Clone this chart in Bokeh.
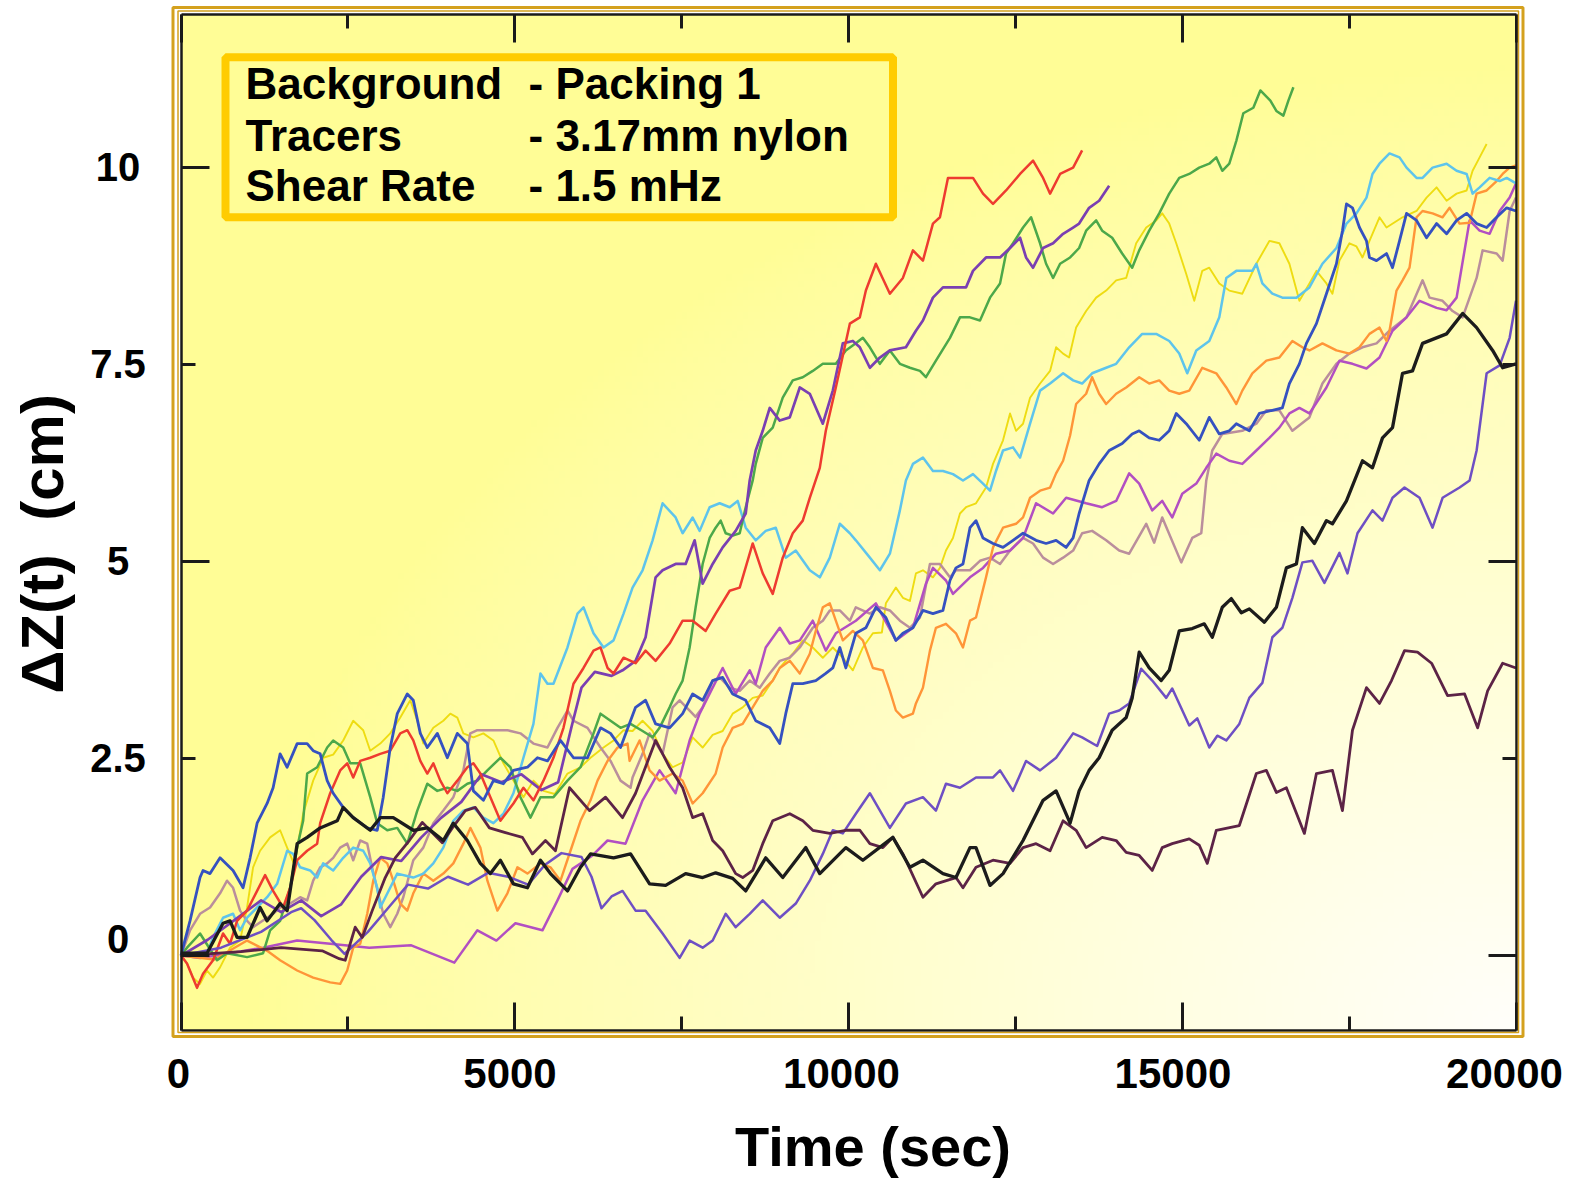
import math
import numpy as np
from bokeh.plotting import figure
from bokeh.models import Range1d, FixedTicker, LinearAxis, BoxAnnotation, Label
from bokeh.embed import file_html
from bokeh.resources import INLINE

# ---------------- data ----------------
X_TICKS = [0, 5000, 10000, 15000, 20000]
X_MINOR = [2500, 7500, 12500, 17500]
X_TICK_TEXT = ["0", "5000", "10000", "15000", "20000"]
Y_TICKS = [0, 5, 10]
Y_MINOR = [2.5, 7.5]
Y_LABEL_VALUES = [0, 2.5, 5, 7.5, 10]
Y_LABEL_TEXT = ["0", "2.5", "5", "7.5", "10"]
X_TITLE = "Time (sec)"
Y_TITLE = "ΔZ(t)\u00a0 (cm)"

LEGEND_KEYS = ["Background", "Tracers", "Shear Rate"]
LEGEND_VALUES = ["- Packing 1", "- 3.17mm nylon", "- 1.5 mHz"]

black = [(0,0.03),(390,0.03),(630,0.41),(735,0.44),(840,0.23),(990,0.23),(1185,0.61),(1290,0.44),(1485,0.66),(1590,0.57),(1740,1.42),(1890,1.50),(2085,1.62),(2340,1.71),(2430,1.88),(2580,1.75),(2835,1.59),(2985,1.75),(3180,1.75),(3480,1.59),(3690,1.62),(3930,1.46),(4080,1.68),(4290,1.46),(4485,1.17),(4635,1.04),(4785,1.21),(4980,0.91),(5190,0.86),(5385,1.21),(5535,1.04),(5790,0.82),(5985,1.12),(6135,1.29),(6480,1.24),(6735,1.29),(7020,0.91),(7260,0.89),(7560,1.04),(7815,0.99),(8010,1.05),(8265,0.98),(8460,0.82),(8760,1.24),(9015,0.99),(9360,1.37),(9570,1.04),(9960,1.37),(10215,1.21),(10665,1.50),(10920,1.12),(11115,1.21),(11415,1.04),(11610,0.99),(11820,1.37),(11910,1.37),(12120,0.89),(12315,1.04),(12615,1.46),(12915,1.97),(13110,2.09),(13320,1.68),(13455,2.09),(13605,2.35),(13755,2.51),(13950,2.86),(14160,3.02),(14250,3.27),(14355,3.85),(14505,3.65),(14685,3.49),(14805,3.62),(14955,4.12),(15150,4.15),(15330,4.21),(15450,4.04),(15600,4.42),(15735,4.53),(15885,4.35),(16005,4.40),(16230,4.23),(16410,4.42),(16560,4.92),(16710,4.97),(16800,5.43),(16980,5.23),(17160,5.52),(17250,5.48),(17460,5.77),(17700,6.28),(17850,6.19),(18000,6.57),(18150,6.70),(18300,7.39),(18450,7.42),(18600,7.77),(18960,7.89),(19200,8.15),(19410,7.97),(19650,7.68),(19800,7.46),(20000,7.51)]

maroon = [(0,0.0),(900,0.05),(1500,0.1),(2115,0.06),(2370,-0.04),(2460,-0.06),(2610,0.36),(2715,0.23),(2865,0.57),(3060,0.99),(3210,1.24),(3420,1.46),(3615,1.69),(3810,1.52),(3915,1.43),(4065,1.62),(4260,1.84),(4410,1.88),(4620,1.62),(4860,1.56),(5115,1.50),(5265,1.29),(5460,1.46),(5610,1.33),(5820,2.13),(6120,1.84),(6360,2.01),(6615,1.75),(6810,2.06),(7110,2.73),(7320,2.39),(7515,2.13),(7665,1.75),(7815,1.80),(7965,1.46),(8115,1.33),(8310,1.04),(8415,0.99),(8565,1.08),(8715,1.42),(8865,1.71),(9120,1.80),(9315,1.71),(9465,1.59),(9720,1.55),(9960,1.59),(10170,1.59),(10320,1.42),(10515,1.37),(10665,1.50),(10815,1.29),(11115,0.74),(11310,0.91),(11610,0.99),(11715,0.86),(11910,1.12),(12165,1.21),(12420,1.17),(12615,1.37),(12810,1.42),(13020,1.33),(13215,1.71),(13410,1.59),(13560,1.37),(13800,1.50),(14010,1.46),(14160,1.31),(14355,1.27),(14550,1.08),(14700,1.37),(14850,1.42),(15105,1.48),(15255,1.40),(15375,1.17),(15510,1.59),(15855,1.65),(16110,2.31),(16260,2.35),(16410,2.07),(16560,2.13),(16830,1.55),(17010,2.31),(17250,2.35),(17400,1.84),(17550,2.86),(17760,3.40),(17955,3.20),(18135,3.49),(18330,3.87),(18525,3.85),(18735,3.71),(18975,3.30),(19230,3.32),(19425,2.89),(19575,3.36),(19800,3.71),(20000,3.65)]

violet = [(0,0.0),(600,0.1),(1200,0.3),(1650,0.55),(1800,0.6),(2000,0.45),(2250,0.2),(2450,0.02),(2800,0.3),(3100,0.6),(3400,0.9),(3700,0.85),(4000,1.0),(4300,0.9),(4600,1.05),(4900,1.0),(5200,0.9),(5450,1.15),(5700,1.3),(6000,1.25),(6150,1.0),(6300,0.6),(6450,0.75),(6615,0.82),(6810,0.57),(6960,0.57),(7215,0.28),(7470,-0.03),(7620,0.19),(7815,0.10),(7965,0.19),(8160,0.53),(8310,0.36),(8520,0.53),(8715,0.70),(8970,0.48),(9210,0.66),(9420,0.95),(9615,1.29),(9765,1.59),(9915,1.55),(10110,1.80),(10320,2.06),(10620,1.62),(10860,1.93),(11115,2.01),(11310,1.84),(11460,2.18),(11670,2.13),(11910,2.26),(12165,2.26),(12270,2.35),(12465,2.09),(12660,2.47),(12870,2.35),(13110,2.51),(13365,2.82),(13500,2.77),(13725,2.66),(13905,3.07),(14055,3.11),(14205,3.20),(14385,3.64),(14550,3.49),(14760,3.27),(14850,3.39),(15105,2.92),(15225,3.01),(15405,2.64),(15525,2.79),(15660,2.73),(15855,2.94),(16005,3.27),(16200,3.46),(16350,4.04),(16500,4.16),(16650,4.54),(16800,4.99),(16950,5.01),(17130,4.73),(17355,5.11),(17475,4.85),(17625,5.36),(17850,5.65),(18000,5.52),(18150,5.81),(18330,5.94),(18555,5.81),(18750,5.43),(18900,5.81),(19155,5.94),(19305,6.03),(19410,6.41),(19560,7.39),(19755,7.49),(19905,7.84),(20000,8.31)]

red = [(0,0.0),(90,-0.10),(240,-0.41),(330,-0.23),(480,-0.06),(630,0.28),(735,0.15),(840,0.44),(990,0.57),(1140,0.82),(1260,1.02),(1380,0.82),(1530,0.61),(1635,0.86),(1740,1.21),(1890,1.33),(2040,1.42),(2085,1.68),(2235,2.06),(2385,2.35),(2490,2.44),(2580,2.26),(2685,2.47),(2835,2.51),(2985,2.56),(3135,2.60),(3285,2.82),(3390,2.86),(3480,2.73),(3585,2.47),(3690,2.31),(3780,2.44),(3885,2.22),(3990,2.06),(4140,2.22),(4290,2.39),(4380,2.44),(4485,2.31),(4635,2.01),(4785,1.71),(4980,1.93),(5130,2.13),(5280,1.97),(5430,2.22),(5580,2.51),(5730,2.89),(5880,3.45),(6030,3.65),(6180,3.87),(6285,3.91),(6390,3.65),(6480,3.58),(6630,3.78),(6810,3.71),(6960,3.87),(7110,3.74),(7320,3.96),(7515,4.25),(7665,4.25),(7860,4.12),(8010,4.34),(8220,4.63),(8370,4.67),(8565,5.23),(8715,4.85),(8865,4.59),(9015,5.05),(9165,5.36),(9315,5.52),(9420,5.81),(9570,6.19),(9660,6.66),(9810,7.21),(10020,8.02),(10170,8.10),(10260,8.44),(10410,8.78),(10620,8.40),(10815,8.60),(10965,8.95),(11115,8.82),(11265,9.29),(11370,9.37),(11490,9.87),(11670,9.87),(11865,9.87),(12015,9.67),(12165,9.54),(12360,9.71),(12570,9.92),(12765,10.09),(12915,9.87),(13020,9.67),(13170,9.92),(13365,10.0),(13500,10.22)]

purple = [(0,0.0),(400,0.2),(800,0.45),(1200,0.7),(1500,0.55),(1800,0.7),(2100,0.5),(2400,0.65),(2700,1.0),(3000,1.25),(3300,1.2),(3600,1.5),(3900,1.75),(4200,1.95),(4500,2.3),(4800,2.2),(5100,2.3),(5400,2.1),(5650,2.2),(5850,2.9),(6000,3.4),(6200,3.6),(6450,3.55),(6615,3.62),(6810,3.74),(6960,4.04),(7110,4.80),(7215,4.89),(7410,4.97),(7560,4.97),(7695,5.27),(7815,4.72),(7965,4.97),(8115,5.18),(8310,5.39),(8460,5.61),(8520,6.03),(8610,6.41),(8715,6.66),(8820,6.95),(8970,6.79),(9120,6.83),(9270,7.21),(9420,7.13),(9615,6.75),(9765,7.17),(9915,7.77),(10065,7.80),(10170,7.72),(10320,7.46),(10470,7.59),(10620,7.68),(10860,7.72),(11010,7.93),(11115,8.06),(11265,8.35),(11415,8.48),(11610,8.48),(11760,8.48),(11865,8.69),(12060,8.86),(12270,8.86),(12420,8.98),(12570,9.11),(12660,8.86),(12765,8.73),(12915,8.98),(13065,9.04),(13215,9.16),(13365,9.24),(13455,9.29),(13605,9.49),(13755,9.58),(13905,9.77)]

green = [(0,0.0),(90,0.10),(285,0.28),(540,-0.06),(690,0.03),(990,-0.02),(1230,0.03),(1335,0.32),(1485,0.44),(1635,0.86),(1740,1.37),(1830,1.71),(1890,2.31),(2040,2.39),(2190,2.64),(2280,2.73),(2430,2.64),(2535,2.44),(2685,2.44),(2835,2.01),(2940,1.68),(3090,1.59),(3240,1.62),(3390,1.42),(3540,1.84),(3690,2.18),(3840,2.09),(3990,2.13),(4140,2.09),(4290,2.18),(4440,2.22),(4590,2.35),(4785,2.51),(4935,2.39),(5085,2.01),(5235,1.75),(5385,2.01),(5580,2.01),(5790,2.22),(5985,2.39),(6180,2.82),(6285,3.07),(6435,2.98),(6585,2.89),(6735,2.94),(6915,2.85),(7065,2.77),(7170,2.89),(7320,3.15),(7410,3.32),(7515,3.49),(7620,3.91),(7710,4.42),(7815,4.97),(7920,5.30),(8010,5.43),(8085,5.52),(8160,5.36),(8265,5.33),(8370,5.36),(8460,5.69),(8565,6.03),(8610,6.24),(8715,6.57),(8865,6.70),(9015,7.08),(9165,7.30),(9315,7.34),(9465,7.42),(9615,7.51),(9810,7.51),(9960,7.68),(10110,7.77),(10215,7.84),(10320,7.72),(10470,7.51),(10620,7.68),(10770,7.51),(10920,7.46),(11070,7.42),(11160,7.34),(11310,7.55),(11520,7.84),(11670,8.10),(11820,8.10),(11970,8.06),(12120,8.35),(12270,8.53),(12360,8.91),(12465,9.04),(12615,9.24),(12735,9.37),(12870,9.04),(12960,8.78),(13065,8.60),(13170,8.78),(13320,8.86),(13455,8.98),(13560,9.20),(13710,9.33),(13800,9.20),(13950,9.11),(14100,8.91),(14250,8.73),(14355,8.95),(14505,9.20),(14655,9.42),(14805,9.67),(14955,9.87),(15105,9.92),(15255,10.0),(15405,10.05),(15510,10.13),(15600,9.96),(15705,10.05),(15810,10.34),(15915,10.69),(16065,10.76),(16170,10.98),(16320,10.85),(16410,10.72),(16515,10.66),(16590,10.85),(16665,11.02)]

cyan = [(0,0.0),(390,0.03),(480,0.23),(630,0.48),(780,0.53),(885,0.32),(990,0.48),(1140,0.61),(1290,0.74),(1440,0.91),(1590,1.33),(1680,1.29),(1785,1.12),(1935,1.08),(2040,0.99),(2130,1.17),(2280,1.08),(2430,1.24),(2580,1.37),(2730,1.33),(2835,1.17),(2940,0.86),(2985,0.61),(3240,1.04),(3480,0.99),(3630,1.04),(3780,1.17),(3930,1.37),(4080,1.71),(4230,1.84),(4380,1.88),(4530,1.75),(4680,1.68),(4830,1.80),(4980,2.06),(5130,2.51),(5280,2.94),(5385,3.58),(5490,3.45),(5580,3.45),(5790,3.91),(5940,4.34),(6030,4.42),(6180,4.09),(6330,3.91),(6480,4.00),(6630,4.34),(6765,4.67),(6915,4.89),(7065,5.27),(7215,5.74),(7410,5.56),(7515,5.36),(7665,5.56),(7770,5.39),(7920,5.69),(8070,5.74),(8220,5.69),(8340,5.77),(8460,5.43),(8610,5.27),(8760,5.39),(8910,5.43),(9060,5.05),(9210,5.14),(9420,4.89),(9570,4.80),(9720,5.05),(9870,5.48),(10020,5.36),(10110,5.27),(10320,5.05),(10470,4.89),(10620,5.10),(10770,5.65),(10860,6.03),(10965,6.24),(11115,6.32),(11265,6.15),(11415,6.15),(11565,6.11),(11715,6.03),(11865,6.11),(12015,5.99),(12120,5.90),(12210,6.15),(12315,6.41),(12465,6.45),(12570,6.32),(12720,6.75),(12870,7.17),(13020,7.26),(13215,7.39),(13365,7.30),(13500,7.26),(13650,7.39),(13860,7.46),(14010,7.51),(14205,7.72),(14400,7.89),(14610,7.89),(14805,7.80),(14955,7.64),(15075,7.39),(15210,7.68),(15405,7.80),(15555,8.10),(15660,8.60),(15810,8.69),(16050,8.69),(16110,8.78),(16200,8.53),(16350,8.40),(16500,8.35),(16710,8.35),(16905,8.48),(17100,8.78),(17310,8.98),(17460,9.29),(17610,9.42),(17760,9.62),(17850,9.92),(17955,10.05),(18105,10.18),(18255,10.13),(18360,10.0),(18510,9.87),(18600,9.87),(18750,10.0),(18960,10.05),(19110,9.96),(19260,9.92),(19350,9.67),(19455,9.75),(19605,9.87),(19755,9.83),(19860,9.87),(20000,9.80)]

blue = [(0,0.0),(30,0.1),(135,0.44),(285,0.99),(330,1.08),(435,1.04),(585,1.24),(780,1.08),(930,0.86),(1035,1.24),(1140,1.68),(1290,1.93),(1380,2.13),(1485,2.56),(1590,2.39),(1740,2.69),(1890,2.69),(1980,2.60),(2085,2.56),(2190,2.22),(2280,2.06),(2430,1.88),(2580,1.75),(2790,1.62),(2940,1.59),(3030,2.01),(3135,2.64),(3240,3.07),(3390,3.32),(3480,3.24),(3585,2.82),(3690,2.64),(3840,2.82),(3990,2.51),(4140,2.82),(4290,2.69),(4380,2.09),(4530,1.97),(4680,2.22),(4830,2.18),(4980,2.35),(5190,2.39),(5340,2.51),(5490,2.47),(5685,2.73),(5880,2.51),(6090,2.51),(6285,2.89),(6435,2.82),(6585,2.64),(6810,3.15),(6960,3.24),(7110,2.94),(7320,2.89),(7515,3.07),(7665,3.32),(7815,3.24),(7965,3.49),(8115,3.53),(8265,3.32),(8460,3.24),(8610,2.98),(8820,2.89),(8970,2.69),(9060,3.07),(9165,3.45),(9315,3.45),(9510,3.49),(9660,3.58),(9765,3.65),(9870,3.91),(9960,3.65),(10110,4.09),(10260,4.16),(10410,4.42),(10560,4.29),(10710,4.00),(10815,4.09),(10965,4.16),(11115,4.38),(11265,4.34),(11415,4.38),(11520,4.76),(11610,4.92),(11715,4.97),(11820,5.43),(11910,5.52),(12015,5.30),(12165,5.23),(12315,5.18),(12465,5.27),(12615,5.36),(12810,5.27),(12960,5.23),(13110,5.27),(13260,5.18),(13365,5.30),(13455,5.61),(13605,6.03),(13755,6.24),(13905,6.41),(14100,6.50),(14250,6.62),(14355,6.66),(14505,6.57),(14655,6.54),(14805,6.66),(14910,6.88),(15060,6.75),(15255,6.54),(15405,6.83),(15555,6.62),(15705,6.66),(15810,6.75),(16005,6.66),(16155,6.88),(16350,6.92),(16500,6.95),(16605,7.26),(16755,7.51),(16860,7.77),(17010,8.02),(17160,8.40),(17310,8.78),(17400,9.20),(17460,9.54),(17550,9.49),(17655,9.24),(17760,9.07),(17805,8.86),(17910,8.82),(18060,8.91),(18150,8.73),(18255,9.07),(18360,9.42),(18510,9.33),(18660,9.11),(18810,9.29),(18960,9.16),(19110,9.33),(19260,9.42),(19410,9.29),(19560,9.24),(19710,9.37),(19860,9.49),(20000,9.45)]

orange = [(0,0.0),(500,-0.05),(990,0.19),(1290,0.06),(1485,-0.06),(1740,-0.19),(1980,-0.28),(2235,-0.34),(2385,-0.36),(2490,-0.19),(2580,0.10),(2685,0.15),(2790,0.53),(2880,0.95),(2985,1.24),(3090,1.17),(3180,0.95),(3285,0.66),(3390,0.57),(3480,0.79),(3630,1.04),(3780,0.95),(3930,1.04),(4080,1.17),(4230,1.42),(4335,1.62),(4485,1.37),(4590,0.95),(4740,0.57),(4890,0.79),(5040,1.12),(5190,1.04),(5385,1.17),(5535,1.12),(5685,0.95),(5835,1.33),(5985,1.71),(6135,1.97),(6240,2.22),(6390,2.47),(6540,2.64),(6690,2.69),(6720,2.47),(6870,2.73),(7020,2.35),(7170,2.22),(7365,2.31),(7515,2.22),(7665,1.93),(7815,2.06),(8010,2.31),(8115,2.64),(8265,2.89),(8415,2.94),(8565,3.15),(8715,3.36),(8865,3.49),(8970,3.65),(9120,3.74),(9270,3.58),(9420,3.83),(9510,4.12),(9615,4.42),(9720,4.47),(9810,4.25),(9915,4.00),(10065,4.12),(10215,4.00),(10365,3.65),(10515,3.62),(10620,3.36),(10710,3.11),(10815,3.02),(10965,3.07),(11010,3.20),(11115,3.40),(11220,3.87),(11310,4.16),(11460,4.21),(11610,4.09),(11715,3.91),(11820,4.25),(11910,4.29),(12060,4.80),(12165,5.18),(12315,5.43),(12510,5.48),(12615,5.56),(12720,5.81),(12870,5.90),(13020,5.94),(13110,6.12),(13215,6.28),(13320,6.60),(13410,7.00),(13560,7.13),(13650,7.34),(13755,7.13),(13860,7.00),(14010,7.13),(14160,7.21),(14355,7.34),(14505,7.26),(14655,7.30),(14805,7.17),(14955,7.13),(15105,7.17),(15300,7.46),(15510,7.39),(15660,7.21),(15810,7.00),(15900,7.17),(16050,7.39),(16260,7.55),(16455,7.59),(16650,7.80),(16800,7.72),(16905,7.68),(17100,7.77),(17310,7.68),(17505,7.64),(17655,7.72),(17805,7.89),(17955,7.97),(18060,7.80),(18105,7.93),(18210,8.44),(18300,8.57),(18405,8.73),(18510,9.37),(18600,9.45),(18750,9.42),(18900,9.37),(19005,9.49),(19155,9.29),(19305,9.30),(19410,9.67),(19560,9.71),(19710,9.83),(19800,9.92),(19905,10.0),(20000,10.03)]

yellow = [(0,0.0),(90,-0.10),(180,-0.28),(285,-0.36),(390,-0.19),(480,-0.28),(585,-0.15),(735,0.10),(885,0.19),(990,0.61),(1080,1.12),(1185,1.33),(1335,1.50),(1485,1.59),(1590,1.37),(1700,1.15),(1830,1.80),(1980,2.22),(2130,2.51),(2280,2.55),(2430,2.73),(2580,2.98),(2730,2.86),(2835,2.60),(2985,2.69),(3135,2.82),(3285,3.02),(3435,3.24),(3540,2.98),(3630,2.69),(3780,2.89),(3930,2.98),(4035,3.07),(4140,3.02),(4230,2.82),(4380,2.77),(4530,2.82),(4680,2.73),(4830,2.44),(4980,2.22),(5130,2.01),(5280,2.22),(5430,2.09),(5600,2.05),(5790,2.31),(5985,2.39),(6135,2.51),(6330,2.64),(6480,2.73),(6630,2.86),(6765,2.85),(6915,2.98),(7065,2.85),(7215,2.56),(7365,2.39),(7515,2.45),(7665,2.77),(7815,2.64),(7965,2.80),(8115,2.85),(8265,3.07),(8415,3.15),(8565,3.27),(8715,3.30),(8865,3.49),(8970,3.65),(9060,3.74),(9165,3.83),(9315,4.00),(9465,3.91),(9615,3.78),(9765,3.91),(9915,3.78),(10065,3.62),(10215,3.91),(10365,4.09),(10500,4.10),(10560,4.47),(10710,4.67),(10815,4.54),(10920,4.50),(11010,4.85),(11115,4.89),(11265,4.80),(11370,4.92),(11460,5.14),(11565,5.30),(11670,5.61),(11760,5.69),(11910,5.74),(12060,5.94),(12165,6.24),(12315,6.54),(12420,6.88),(12510,6.66),(12615,6.75),(12720,7.08),(12870,7.26),(13020,7.42),(13110,7.72),(13215,7.64),(13305,7.59),(13410,7.97),(13560,8.18),(13710,8.35),(13860,8.44),(14010,8.57),(14160,8.60),(14310,9.04),(14460,9.24),(14610,9.33),(14700,9.42),(14805,9.29),(14910,9.04),(15060,8.65),(15180,8.31),(15300,8.69),(15405,8.73),(15555,8.53),(15705,8.44),(15900,8.40),(16110,8.78),(16305,9.07),(16455,9.04),(16605,8.78),(16755,8.31),(16905,8.53),(17010,8.69),(17160,8.53),(17250,8.40),(17355,8.82),(17505,9.04),(17610,9.00),(17700,8.86),(17805,9.07),(17955,9.37),(18060,9.24),(18300,9.37),(18510,9.45),(18660,9.62),(18810,9.75),(18960,9.58),(19110,9.67),(19260,9.71),(19350,9.96),(19455,10.13),(19560,10.30)]

magenta = [(0,0.0),(285,-0.03),(735,0.03),(1230,0.10),(1740,0.19),(2235,0.15),(2820,0.10),(3450,0.13),(4095,-0.09),(4440,0.32),(4725,0.19),(5010,0.41),(5415,0.32),(5640,0.70),(5865,1.10),(6165,1.27),(6390,1.46),(6660,1.42),(6915,1.97),(7170,2.35),(7410,2.06),(7620,2.73),(7770,3.07),(7965,3.40),(8115,3.65),(8310,3.32),(8520,3.62),(8610,3.45),(8760,3.91),(8970,4.16),(9120,3.96),(9270,4.00),(9465,4.25),(9660,3.87),(9810,4.09),(10110,4.25),(10410,4.47),(10710,4.00),(10965,4.16),(11160,4.72),(11265,4.92),(11460,4.76),(11565,4.59),(11820,4.80),(12015,4.92),(12210,5.10),(12420,5.14),(12615,5.30),(12810,5.74),(13065,5.61),(13260,5.81),(13560,5.74),(13800,5.69),(14010,5.77),(14205,6.12),(14355,5.99),(14550,5.65),(14700,5.77),(14850,5.56),(15000,5.86),(15210,5.99),(15360,6.19),(15510,6.37),(15705,6.28),(15900,6.24),(16110,6.41),(16305,6.57),(16455,6.70),(16605,6.88),(16755,6.95),(16905,6.88),(17160,7.21),(17355,7.55),(17550,7.51),(17760,7.45),(17955,7.59),(18150,7.93),(18360,8.10),(18555,8.31),(18810,8.22),(18960,8.19),(19110,8.35),(19305,9.33),(19455,9.20),(19605,9.16),(19755,9.45),(19905,9.62),(20000,9.80)]

mauve = [(0,0.0),(135,0.32),(285,0.53),(435,0.61),(585,0.79),(690,0.95),(780,0.86),(885,0.57),(990,0.44),(1080,0.36),(1380,0.53),(1485,0.61),(1635,0.66),(1785,0.74),(1890,0.70),(1980,0.95),(2085,1.12),(2190,1.17),(2280,1.24),(2385,1.37),(2490,1.42),(2580,1.21),(2685,1.46),(2790,1.42),(2880,1.05),(3030,0.53),(3135,0.36),(3240,0.53),(3330,0.74),(3480,1.21),(3630,1.37),(3780,1.68),(3930,1.84),(4080,2.01),(4230,2.35),(4335,2.82),(4440,2.86),(4680,2.86),(4890,2.86),(5085,2.82),(5280,2.69),(5490,2.64),(5640,2.89),(5790,3.11),(5880,2.98),(6090,2.89),(6285,2.64),(6435,2.47),(6585,2.22),(6735,2.13),(6765,2.26),(6915,2.56),(7020,2.82),(7215,2.56),(7365,3.15),(7470,3.24),(7620,3.11),(7710,3.03),(7815,3.15),(7965,3.49),(8070,3.53),(8220,3.40),(8370,3.36),(8520,3.49),(8670,3.40),(8820,3.58),(8970,3.74),(9120,3.78),(9270,3.91),(9465,4.16),(9615,4.25),(9720,4.38),(9870,4.38),(10020,4.25),(10110,4.42),(10320,4.34),(10470,4.42),(10620,4.38),(10770,4.25),(10920,4.16),(11070,4.29),(11220,4.97),(11370,4.97),(11520,4.80),(11610,4.89),(11820,4.89),(11970,5.01),(12120,5.05),(12270,4.97),(12420,5.14),(12615,5.30),(12765,5.23),(12915,5.05),(13065,4.97),(13215,5.05),(13365,5.14),(13500,5.36),(13650,5.39),(13860,5.27),(14055,5.14),(14205,5.10),(14460,5.48),(14580,5.24),(14700,5.56),(14985,4.99),(15150,5.30),(15285,5.36),(15360,6.03),(15450,6.41),(15600,6.62),(15900,6.66),(16110,6.75),(16260,6.92),(16455,6.92),(16650,6.66),(16905,6.83),(17100,7.26),(17310,7.51),(17505,7.64),(17700,7.72),(17910,7.77),(18105,7.93),(18360,8.10),(18600,8.57),(18705,8.35),(18900,8.31),(19050,8.18),(19200,8.10),(19410,8.60),(19500,8.95),(19710,8.91),(19800,8.82),(19905,9.45),(20000,9.62)]

# ---------------- styles / layout ----------------
FONT = "Liberation Sans"
GOLD = "#D4A11E"
SERIES = [
    (yellow, "#EEDC12", 1.9),
    (mauve, "#BA8E9C", 2.5),
    (magenta, "#B24FC2", 2.5),
    (orange, "#FF9538", 2.4),
    (cyan, "#5EC4EC", 2.5),
    (green, "#4CA84A", 2.5),
    (purple, "#7A3FB2", 2.7),
    (red, "#EE3B30", 2.5),
    (blue, "#3551C0", 2.8),
    (violet, "#6E4FC4", 2.5),
    (maroon, "#5C2346", 2.8),
    (black, "#1C1C1C", 3.3),
]

X0, X1 = 0, 20000
Y0, Y1 = -0.945, 11.95
# canvas pixel geometry
FRAME_L, FRAME_R, FRAME_T, FRAME_B = 4, 1568, 4, 1178
PLOT_L, PLOT_R, PLOT_T, PLOT_B = 180.5, 1515.5, 13.5, 1029.5
KX = (PLOT_R - PLOT_L) / (X1 - X0)
KY = (PLOT_B - PLOT_T) / (Y1 - Y0)

def sx(px):
    return X0 + (px - PLOT_L) / KX

def sy(py):
    return Y0 + (PLOT_B - py) / KY

p = figure(frame_width=FRAME_R - FRAME_L, frame_height=FRAME_B - FRAME_T,
           x_range=Range1d(sx(FRAME_L), sx(FRAME_R)), y_range=Range1d(sy(FRAME_B), sy(FRAME_T)),
           output_backend="svg", toolbar_location=None,
           min_border_left=FRAME_L, min_border_right=4, min_border_top=FRAME_T, min_border_bottom=2)
p.background_fill_color = "white"
p.border_fill_color = "white"
p.outline_line_color = None
p.grid.visible = False

# background gradient of the plot box (yellow -> white towards lower right)
ny, nx = 160, 240
u = np.linspace(0, 1, nx)[None, :]
v = np.linspace(0, 1, ny)[:, None]
d = np.sqrt((1 - u) ** 2 + v ** 2)
t = np.clip(1 - d / 0.95, 0, 1) ** 0.85
c0 = np.array([255, 253, 150], dtype=float)
c1 = np.array([255, 255, 250], dtype=float)
rgba = np.empty((ny, nx, 4), dtype=np.uint8)
for k in range(3):
    rgba[:, :, k] = (c0[k] * (1 - t) + c1[k] * t).astype(np.uint8)
rgba[:, :, 3] = 255
img = rgba.view(dtype=np.uint32).reshape((ny, nx))
p.image_rgba(image=[img], x=X0, y=Y0, dw=X1 - X0, dh=Y1 - Y0)

for data, color, lw in SERIES:
    xs = [a for a, b in data]
    ys = [b for a, b in data]
    p.line(xs, ys, line_color=color, line_width=lw, line_join="round")

# ---------------- axes: lines + inward ticks on all four sides ----------------
def style_axis(ax, ticks, minor, loc, bounds):
    ax.ticker = FixedTicker(ticks=ticks, minor_ticks=minor)
    ax.fixed_location = loc
    ax.bounds = bounds
    ax.major_tick_in = 28
    ax.major_tick_out = 0
    ax.minor_tick_in = 14
    ax.minor_tick_out = 0
    ax.major_tick_line_width = 3
    ax.minor_tick_line_width = 3
    ax.major_tick_line_color = "#1a1a1a"
    ax.minor_tick_line_color = "#1a1a1a"
    ax.axis_line_width = 2.5
    ax.axis_line_color = "#1a1a1a"
    ax.major_label_overrides = {float(tk): "" for tk in ticks}
    ax.major_label_text_font_size = "0px"
    ax.major_label_standoff = 0

style_axis(p.xaxis[0], X_TICKS, X_MINOR, Y0, (X0, X1))
style_axis(p.yaxis[0], Y_TICKS, Y_MINOR, X0, (Y0, Y1))
top_ax = LinearAxis()
style_axis(top_ax, X_TICKS, X_MINOR, Y1, (X0, X1))
p.add_layout(top_ax, "above")
right_ax = LinearAxis()
style_axis(right_ax, Y_TICKS, Y_MINOR, X1, (Y0, Y1))
p.add_layout(right_ax, "right")

def text(x, y, s, size, align="center", angle=0.0, xoff=0, yoff=0):
    p.add_layout(Label(x=x, y=y, text=s, text_font=FONT, text_font_style="bold",
                       text_font_size=size, text_color="black", text_align=align,
                       text_baseline="middle", angle=angle, x_offset=xoff, y_offset=yoff))

# tick labels
for tv, ts in zip(X_TICKS, X_TICK_TEXT):
    text(tv, sy(1073), ts, "42px", xoff=-2.5 - 0.00045 * tv)
for tv, ts in zip(Y_LABEL_VALUES, Y_LABEL_TEXT):
    text(sx(117.5), tv, ts, "40px", yoff=(17 if tv == 0 else 1))

# axis titles
text(sx(872.5), sy(1146), X_TITLE, "56px")
text(sx(42), sy(543.5), Y_TITLE, "60px", angle=math.pi / 2)

# gold double frame around the plot box
for (l, r, tp, b, lw) in [(172.5, 1522.5, 7.0, 1036.0, 3.0), (177.5, 1518.0, 10.5, 1032.0, 1.5)]:
    p.add_layout(BoxAnnotation(left=sx(l), right=sx(r), top=sy(tp), bottom=sy(b),
                               fill_color=None, fill_alpha=0, line_color=GOLD,
                               line_alpha=1.0, line_width=lw, level="overlay"))

# information box
p.add_layout(BoxAnnotation(left=sx(225), right=sx(892.5), top=sy(56.7), bottom=sy(216.7),
                           fill_color=None, fill_alpha=0, line_color="#FFCC00",
                           line_alpha=1.0, line_width=8, level="overlay"))
for key, val, cy in zip(LEGEND_KEYS, LEGEND_VALUES, [83.3, 135.0, 185.0]):
    text(sx(245), sy(cy), key, "44px", align="left")
    text(sx(528), sy(cy), val, "44px", align="left")

open("out.html", "w").write(file_html(p, INLINE))
